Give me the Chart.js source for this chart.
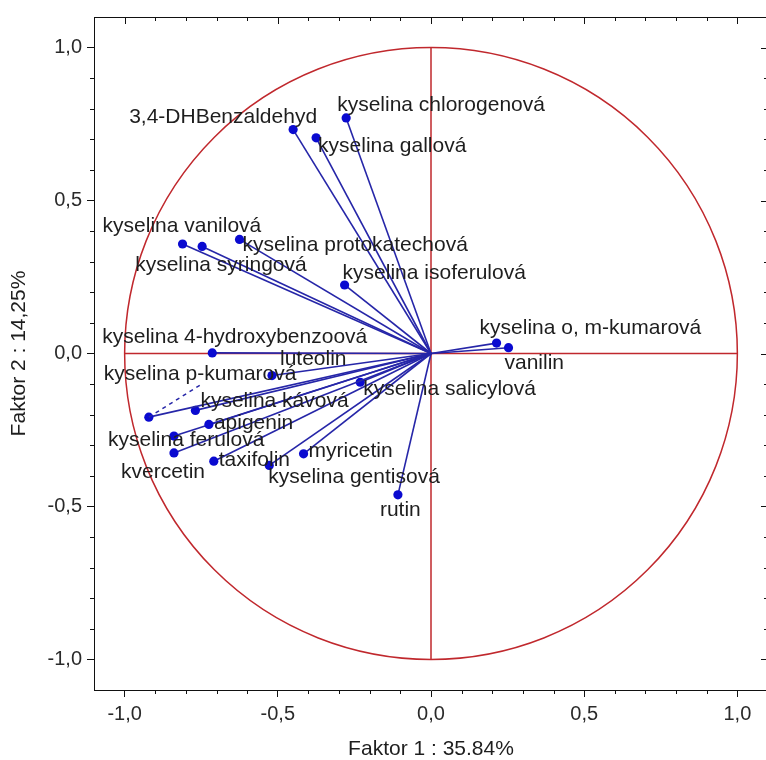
<!DOCTYPE html>
<html>
<head>
<meta charset="utf-8">
<script src="https://cdn.jsdelivr.net/npm/chart.js@4.4.1/dist/chart.umd.min.js"></script>
<style>
  html, body { margin: 0; padding: 0; background: #fff; overflow: hidden; width: 766px; height: 760px; }
  #wrap { position: relative; width: 774px; height: 760px; }
</style>
</head>
<body>
<div id="wrap"><canvas id="c" width="774" height="760"></canvas></div>
<script>
// Variable loadings on the first two factors
const names = [
  'kyselina chlorogenová', '3,4-DHBenzaldehyd', 'kyselina gallová',
  'kyselina vanilová', 'kyselina syringová', 'kyselina protokatechová',
  'kyselina isoferulová', 'kyselina 4-hydroxybenzoová', 'luteolin',
  'kyselina p-kumarová', 'kyselina kávová', 'apigenin',
  'kyselina ferulová', 'kvercetin', 'taxifolin',
  'kyselina gentisová', 'myricetin', 'kyselina salicylová',
  'rutin', 'kyselina o, m-kumarová', 'vanilin'
];
const factor1 = [
  -0.277, -0.450, -0.375,
  -0.811, -0.747, -0.625,
  -0.282, -0.714, -0.519,
  -0.921, -0.769, -0.725,
  -0.839, -0.839, -0.709,
  -0.528, -0.416, -0.231,
  -0.108, 0.214, 0.253
];
const factor2 = [
  0.770, 0.732, 0.705,
  0.358, 0.350, 0.373,
  0.224, 0.002, -0.072,
  -0.208, -0.186, -0.232,
  -0.270, -0.325, -0.352,
  -0.366, -0.328, -0.094,
  -0.462, 0.034, 0.019
];
// Label placement relative to each point (pixels: left edge, vertical middle)
const labelOffsets = [
  [-9, -13], [-164, -12], [2, 8],
  [-80, -18], [-67, 19], [3, 6],
  [-2, -12], [-110, -16], [8, -16],
  [-45, -43], [5, -9], [5, -1],
  [-66, 4], [-53, 19], [5, -1],
  [-1, 12], [5, -3], [3, 7],
  [-18, 15], [-17, -15], [-4, 16]
];
// Labels that are pulled away from their point get a dashed leader
const leaderLabels = ['kyselina p-kumarová'];
const tickValues = [-1, -0.5, 0, 0.5, 1];
const minorStep = 0.1;
const axisTitleX = 'Faktor 1 : 35.84%';
const axisTitleY = 'Faktor 2 : 14,25%';

const FONT = '"Liberation Sans", Arial, Helvetica, sans-serif';
const LINE_BLUE = '#2626a8';
const POINT_BLUE = '#0a0ad0';
const RED = '#c0282d';

const fmt = v => v.toFixed(1).replace('.', ',');

// unit circle and the two reference axes through the origin
const circlePlugin = {
  id: 'unitCircle',
  beforeDatasetsDraw(chart) {
    const { ctx, scales: { x, y } } = chart;
    const cx = x.getPixelForValue(0), cy = y.getPixelForValue(0);
    const rx = x.getPixelForValue(1) - cx, ry = cy - y.getPixelForValue(1);
    ctx.save();
    ctx.strokeStyle = RED;
    ctx.lineWidth = 1.5;
    ctx.beginPath();
    ctx.ellipse(cx, cy, rx, ry, 0, 0, Math.PI * 2);
    ctx.stroke();
    ctx.beginPath();
    ctx.moveTo(x.getPixelForValue(-1), cy);
    ctx.lineTo(x.getPixelForValue(1), cy);
    ctx.moveTo(cx, y.getPixelForValue(-1));
    ctx.lineTo(cx, y.getPixelForValue(1));
    ctx.stroke();
    ctx.restore();
  }
};

// closing frame on top/right plus minor ticks on all sides
const framePlugin = {
  id: 'frameTicks',
  afterDraw(chart) {
    const { ctx, chartArea: a, scales: { x, y } } = chart;
    ctx.save();
    ctx.strokeStyle = '#111';
    ctx.lineWidth = 1;
    ctx.beginPath();
    ctx.moveTo(a.left, a.top + 0.5); ctx.lineTo(a.right, a.top + 0.5);
    ctx.moveTo(a.right - 0.5, a.top); ctx.lineTo(a.right - 0.5, a.bottom);
    const lo = x.min, hi = x.max;
    const n = Math.round((hi - lo) / minorStep);
    for (let i = 1; i < n; i++) {
      const v = +(lo + i * minorStep).toFixed(2);
      const major = tickValues.some(t => Math.abs(t - v) < 1e-6);
      const px = Math.round(x.getPixelForValue(v)) + 0.5;
      const py = Math.round(y.getPixelForValue(v)) + 0.5;
      const len = major ? 7 : 4;
      // top, inward
      ctx.moveTo(px, a.top); ctx.lineTo(px, a.top + len);
      // right, inward
      ctx.moveTo(a.right, py); ctx.lineTo(a.right - len, py);
      if (!major) {
        // bottom and left, outward
        ctx.moveTo(px, a.bottom); ctx.lineTo(px, a.bottom + 4);
        ctx.moveTo(a.left, py); ctx.lineTo(a.left - 4, py);
      }
    }
    ctx.stroke();
    ctx.restore();
  }
};

// variable names beside the vector tips
const labelPlugin = {
  id: 'vectorLabels',
  afterDatasetsDraw(chart) {
    const { ctx } = chart;
    ctx.save();
    ctx.font = '21px ' + FONT;
    ctx.textAlign = 'left';
    ctx.textBaseline = 'middle';
    chart.data.datasets.forEach((ds, i) => {
      const tip = chart.getDatasetMeta(i).data[1];
      if (!tip) return;
      const [dx, dy] = labelOffsets[i];
      const tx = tip.x + dx, ty = tip.y + dy;
      if (leaderLabels.includes(ds.label)) {
        const w = ctx.measureText(ds.label).width;
        ctx.save();
        ctx.strokeStyle = LINE_BLUE;
        ctx.lineWidth = 1.5;
        ctx.setLineDash([4, 4]);
        ctx.beginPath();
        ctx.moveTo(tip.x, tip.y);
        ctx.lineTo(tx + w * 0.5, ty + 11);
        ctx.stroke();
        ctx.restore();
      }
      ctx.fillStyle = '#1e1e1e';
      ctx.fillText(ds.label, tx, ty);
    });
    ctx.restore();
  }
};

const datasets = names.map((name, i) => ({
  label: name,
  data: [{ x: 0, y: 0 }, { x: factor1[i], y: factor2[i] }],
  showLine: true,
  borderColor: LINE_BLUE,
  borderWidth: 1.6,
  pointRadius: [0, 4.6],
  pointHoverRadius: [0, 4.6],
  pointBackgroundColor: POINT_BLUE,
  pointBorderColor: POINT_BLUE,
  pointBorderWidth: 0,
  fill: false,
  tension: 0
}));

const axisCommon = {
  type: 'linear',
  min: -1.1,
  max: 1.1,
  afterBuildTicks: s => { s.ticks = tickValues.map(v => ({ value: v })); },
  grid: { drawOnChartArea: false, drawTicks: true, tickLength: 7, color: '#111', tickColor: '#111', lineWidth: 1 },
  border: { display: true, color: '#111', width: 1 }
};

new Chart(document.getElementById('c'), {
  type: 'scatter',
  data: { datasets },
  plugins: [circlePlugin, labelPlugin, framePlugin],
  options: {
    responsive: false,
    devicePixelRatio: 1,
    animation: false,
    events: [],
    layout: { padding: { top: 17, right: 6, bottom: 0, left: 0 } },
    plugins: { legend: { display: false }, tooltip: { enabled: false } },
    scales: {
      x: {
        ...axisCommon,
        position: 'bottom',
        ticks: { callback: v => fmt(v), color: '#2a2a2a', font: { family: FONT, size: 20 }, padding: 5, maxRotation: 0, autoSkip: false },
        title: { display: true, text: axisTitleX, color: '#1e1e1e', font: { family: FONT, size: 21, lineHeight: 1 }, padding: { top: 0, bottom: 0 } },
        afterFit: s => { s.height = 70; }
      },
      y: {
        ...axisCommon,
        position: 'left',
        ticks: { callback: v => fmt(v), color: '#2a2a2a', font: { family: FONT, size: 20 }, padding: 5, autoSkip: false },
        title: { display: true, text: axisTitleY, color: '#1e1e1e', font: { family: FONT, size: 21, lineHeight: 1 }, padding: { top: 9, bottom: 0 } },
        afterFit: s => { s.width = 94; }
      }
    }
  }
});
</script>
</body>
</html>
